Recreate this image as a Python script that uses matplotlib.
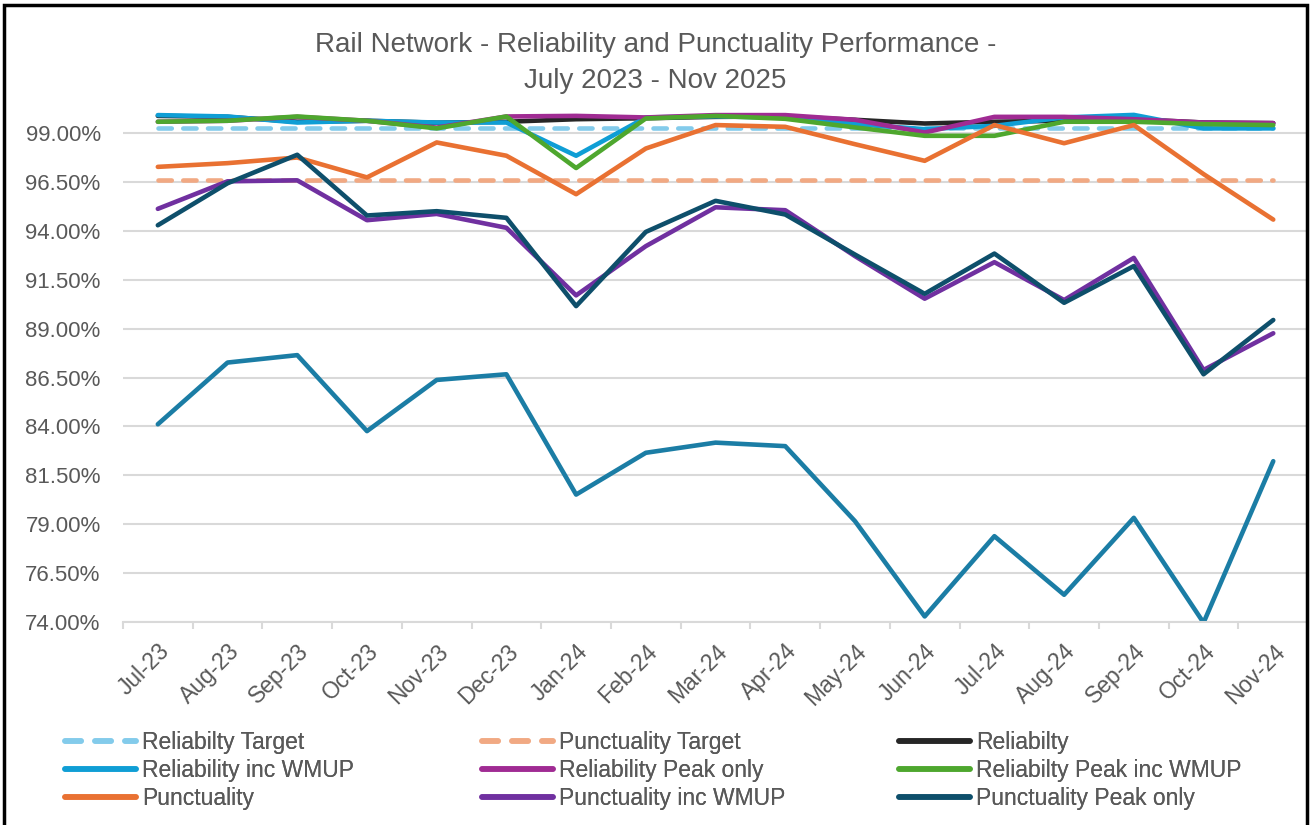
import numpy as np
import matplotlib
matplotlib.use("Agg")
import matplotlib.pyplot as plt
from matplotlib.patches import Rectangle

plt.rcParams['font.family'] = ['Liberation Sans', 'DejaVu Sans']

months = ["Jul-23", "Aug-23", "Sep-23", "Oct-23", "Nov-23", "Dec-23", "Jan-24", "Feb-24",
          "Mar-24", "Apr-24", "May-24", "Jun-24", "Jul-24", "Aug-24", "Sep-24", "Oct-24", "Nov-24"]

reliability_target = [99.27] * 17
punctuality_target = [96.6] * 17
reliability = [99.9, 99.85, 99.6, 99.65, 99.55, 99.6, 99.73, 99.78, 99.85, 99.87,
               99.7, 99.51, 99.6, 99.65, 99.73, 99.56, 99.53]
reliability_wmup = [99.94, 99.87, 99.56, 99.65, 99.56, 99.56, 97.86, 99.82, 99.88, 99.8,
                    99.48, 99.22, 99.39, 99.82, 99.95, 99.26, 99.26]
reliability_peak = [99.6, 99.65, 99.85, 99.65, 99.3, 99.87, 99.9, 99.82, 99.94, 99.94,
                    99.7, 99.05, 99.85, 99.85, 99.73, 99.56, 99.53]
reliability_peak_wmup = [99.6, 99.65, 99.87, 99.65, 99.26, 99.87, 97.23, 99.77, 99.9, 99.75,
                         99.31, 98.88, 98.88, 99.6, 99.6, 99.48, 99.43]
punctuality = [97.29, 97.48, 97.77, 96.75, 98.54, 97.86, 95.89, 98.23, 99.43, 99.34,
               98.45, 97.6, 99.43, 98.5, 99.43, 96.92, 94.59]
punctuality_wmup = [95.14, 96.55, 96.6, 94.56, 94.88, 94.17, 90.71, 93.23, 95.22, 95.07,
                    92.72, 90.54, 92.41, 90.47, 92.63, 86.89, 88.77]
punctuality_peak = [94.3, 96.45, 97.91, 94.8, 95.02, 94.68, 90.16, 93.96, 95.55, 94.85,
                    92.8, 90.79, 92.85, 90.33, 92.21, 86.67, 89.45]
punctuality_peak_wmup = [84.11, 87.27, 87.65, 83.76, 86.38, 86.67, 80.51, 82.65, 83.17, 82.99,
                         79.15, 74.27, 78.38, 75.38, 79.32, 73.95, 82.22]

text_col = "#595959"
grid_col = "#D9D9D9"

fig = plt.figure(figsize=(13.11, 8.25), dpi=100)
ax = fig.add_axes([0.0938, 0.2464, 0.904, 0.6226])

x = np.arange(len(months))
lw = 3.3
dash = dict(linestyle=(0, (2.9, 2.5)), dash_capstyle='round')

series = [
    ("Reliabilty Target", reliability_target, "#83CBEB", dash),
    ("Punctuality Target", punctuality_target, "#F1A983", dash),
    ("Reliabilty", reliability, "#262626", {}),
    ("Reliability inc WMUP", reliability_wmup, "#0F9ED5", {}),
    ("Reliability Peak only", reliability_peak, "#A02B93", {}),
    ("Reliabilty Peak inc WMUP", reliability_peak_wmup, "#4EA72E", {}),
    ("Punctuality", punctuality, "#E97132", {}),
    ("Punctuality inc WMUP", punctuality_wmup, "#7030A0", {}),
    ("Punctuality Peak only", punctuality_peak, "#0E4F6B", {}),
]
handles = []
for name, vals, col, extra in series:
    h, = ax.plot(x, vals, color=col, lw=lw, solid_capstyle='round', label=name, **extra)
    handles.append(h)
ax.plot(x, punctuality_peak_wmup, color="#1B7DA5", lw=lw, solid_capstyle='round')

ax.set_xlim(-0.5, 16.5)
ax.set_ylim(74, 100.3)
yt = np.arange(74, 99.1, 2.5)
ax.set_yticks(yt)
ax.set_yticklabels(["%.2f%%" % v for v in yt])
ax.yaxis.grid(True, color=grid_col, lw=1.5)
ax.set_axisbelow(True)
ax.tick_params(axis='y', length=0, pad=16, labelsize=16, labelcolor=text_col)

ax.set_xticks(x)
ax.set_xticklabels(months, rotation=45, ha='right', rotation_mode='anchor')
ax.set_xticks(np.arange(-0.5, 16.6, 1), minor=True)
ax.tick_params(axis='x', which='major', length=0, pad=13, labelsize=16.5, labelcolor=text_col)
ax.tick_params(axis='x', which='minor', length=5, width=1.5, color=grid_col)
for s in ['top', 'right', 'left']:
    ax.spines[s].set_visible(False)
ax.spines['bottom'].set_color(grid_col)
ax.spines['bottom'].set_linewidth(1.5)

fig.text(0.5, 1 - 63 / 825, "Rail Network - Reliability and Punctuality Performance -\nJuly 2023 - Nov 2025",
         ha='center', va='center', fontsize=20, color=text_col, linespacing=1.45)

# legend: three columns laid out like the Excel one (row-wise order)
col_x = [0.0496, 0.368, 0.686]
for c in range(3):
    hs = [handles[c], handles[c + 3], handles[c + 6]]
    leg = fig.legend(hs, [h.get_label() for h in hs], loc='upper left',
                     bbox_to_anchor=(col_x[c], 0.1145), frameon=False, fontsize=16.5,
                     handlelength=3.1, handletextpad=0.25, labelspacing=0.23,
                     borderpad=0, borderaxespad=0, labelcolor=text_col)
    for ln in leg.get_lines():
        ln.set_linewidth(4)
    fig.add_artist(leg)

fig.add_artist(Rectangle((0.003, -0.05), 0.994, 1.044, transform=fig.transFigure,
                         fill=False, edgecolor='black', lw=2.5))

fig.savefig("out.png", dpi=100)
